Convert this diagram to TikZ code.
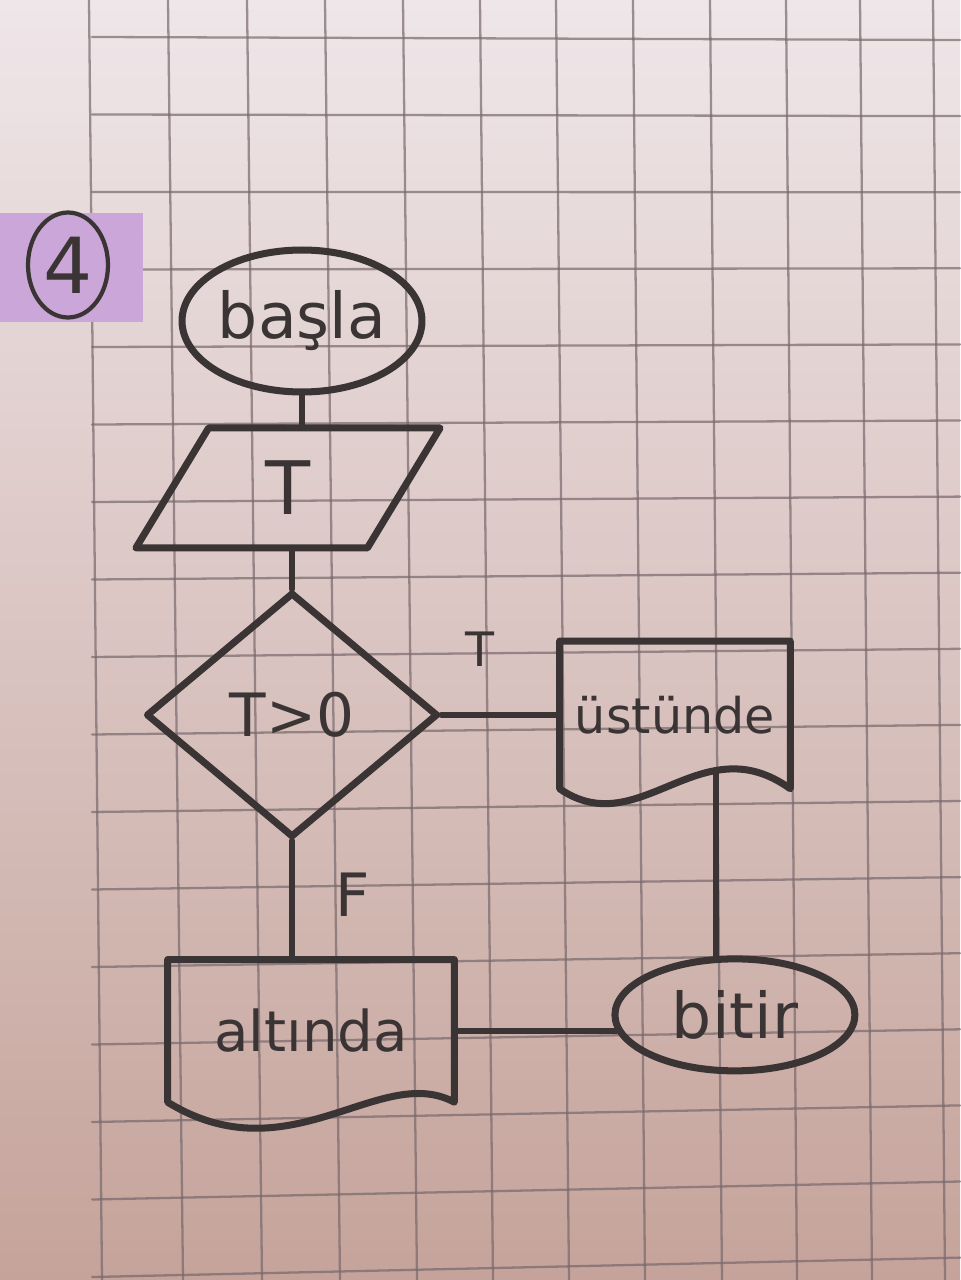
\documentclass[tikz,border=0pt]{standalone}
\usepackage{fontspec}
\setmainfont{DejaVu Sans}
\usepackage{tikz}
\usetikzlibrary{shapes.geometric, positioning, calc}
\definecolor{paperA}{RGB}{239,230,233}
\definecolor{paperB}{RGB}{227,211,213}
\definecolor{paperC}{RGB}{197,163,154}
\definecolor{gridc}{RGB}{120,104,108}
\definecolor{ink}{RGB}{58,52,52}
\definecolor{hilite}{RGB}{203,166,216}

\begin{document}
\begin{tikzpicture}[x=0.02cm,y=-0.02cm,on grid,line join=round,line cap=round]
      \tikzstyle{papergrid}=[draw=gridc,line width=1.3pt,opacity=0.7]
      \tikzstyle{blk}=[draw=ink,line width=4pt,inner sep=0pt,text=ink]
      \tikzstyle{term}=[blk,ellipse]
      \tikzstyle{io}=[blk,trapezium,trapezium left angle=69,trapezium right angle=111,trapezium stretches=true]
      \tikzstyle{cond}=[blk,diamond]
      \tikzstyle{doc}=[rectangle,inner sep=0pt,text=ink]
      \tikzstyle{wire}=[draw=ink,line width=3.8pt]
      \tikzstyle{lbl}=[inner sep=0pt,text=ink]

      % paper
      \useasboundingbox (0,0) rectangle (960,1280);
      \shade[top color=paperA,middle color=paperB,bottom color=paperC] (0,0) rectangle (960,1280);
      \foreach \xt/\xb in {89/102,168/183,247/262,325/340,403/417,480/493,556/569,633/645,710/722,786/797,860/872,933/945}
        \draw[papergrid] (\xt,0) -- (\xb,1280);
      \foreach \k in {0,...,16}
        \draw[papergrid] (92,{37+77.5*\k}) -- (960,{40+76.1*\k});

      % task number
      \fill[hilite] (0,213) rectangle (143,322);
      \node[blk,ellipse,line width=2.4pt,minimum width=1.6cm,minimum height=2.1cm,font=\fontsize{44}{48}\selectfont](num) at (68,265){4};

      \node[term,minimum width=4.8cm,minimum height=2.84cm,font=\fontsize{36}{40}\selectfont](basla) at (302,321){başla};
      \node[io,minimum width=6.1cm,minimum height=2.4cm,font=\fontsize{42}{46}\selectfont](inp)[below=3.34cm of basla,xshift=-2.8mm]{T};
      \node[cond,minimum width=5.84cm,minimum height=4.9cm,font=\fontsize{34}{38}\selectfont](dec)[below=4.54cm of inp,xshift=0.8mm]{T>0};
      \node[doc,minimum width=4.6cm,minimum height=2.94cm,font=\fontsize{28}{32}\selectfont](ust)[right=7.66cm of dec]{üstünde};
      \node[doc,minimum width=5.72cm,minimum height=2.84cm,font=\fontsize{32}{36}\selectfont](alt)[below=6.32cm of dec,xshift=3.8mm]{altında};
      \node[term,minimum width=4.8cm,minimum height=2.24cm,font=\fontsize{36}{40}\selectfont](bitir)[below=6cm of ust,xshift=12mm]{bitir};

      % document outlines
      \draw[wire,line width=4pt] (ust.north west) -- (ust.north east) -- (ust.south east)
        .. controls ($(ust.south east)+(-90,-65)$) and ($(ust.south west)+(80,55)$) .. (ust.south west)
        coordinate[pos=0.3] (ustw) -- cycle;
      \draw[wire,line width=4pt] (alt.north west) -- (alt.north east) -- (alt.south east)
        .. controls ($(alt.south east)+(-74,-40)$) and ($(alt.south west)+(122,75)$) .. (alt.south west) -- cycle;

      \draw[wire] (basla.south) -- (basla.south |- inp.north);
      \draw[wire] (dec.north) -- (dec.north |- inp.south);
      \draw[wire] (dec.east) -- (dec.east -| ust.west)
        node[lbl,pos=0.33,above=0.9cm,font=\fontsize{27}{30}\selectfont]{T};
      \draw[wire] (dec.south) -- (dec.south |- alt.north)
        node[lbl,pos=0.45,right=0.8cm,font=\fontsize{34}{38}\selectfont]{F};
      \draw[wire] (ustw) -- (ustw |- bitir.north);
      \draw[wire] (alt.east) -- (alt.east -| bitir.188);
\end{tikzpicture}
\end{document}
